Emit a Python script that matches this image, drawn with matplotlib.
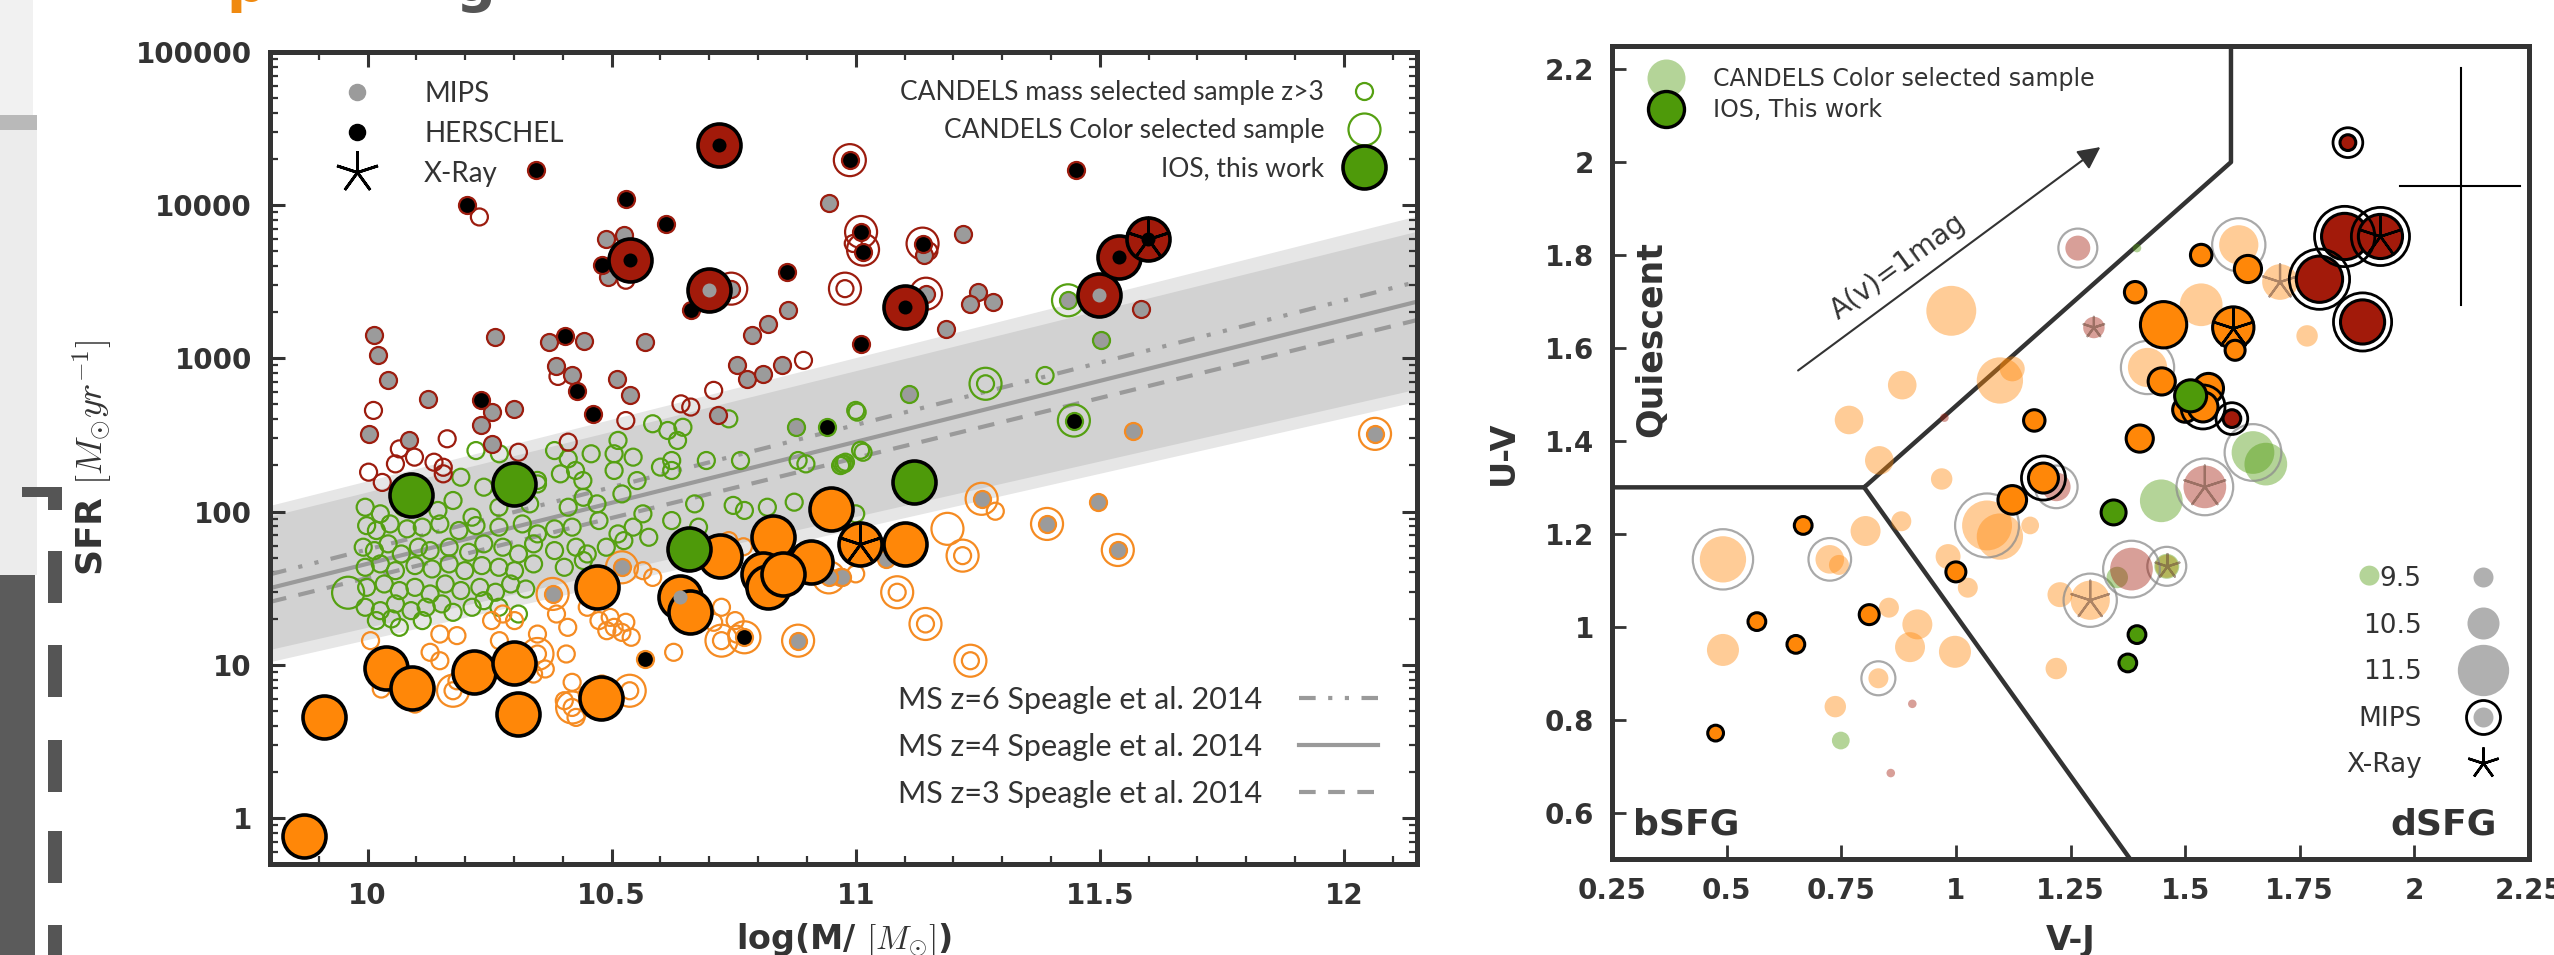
import matplotlib
matplotlib.use("Agg")
import matplotlib.pyplot as plt
import numpy as np
from matplotlib.lines import Line2D
from matplotlib.patches import Rectangle
from matplotlib.legend_handler import HandlerTuple
from matplotlib.ticker import FixedLocator, FuncFormatter, LogLocator, MultipleLocator, NullFormatter

plt.rcParams["mathtext.fontset"] = "cm"

# ---------------------------------------------------------------- data
# left panel: (log M, log SFR)
ms_logm = [9.8, 12.15]
ms_z6 = [1.59, 3.50]
ms_z4 = [1.50, 3.37]
ms_z3 = [1.41, 3.25]
band_outer_lo = [1.02, 2.72]
band_outer_hi = [2.04, 3.93]
band_inner_lo = [1.10, 2.80]
band_inner_hi = [1.97, 3.83]

red_herschel = [(10.345, 4.228), (10.204, 4.004), (10.530, 4.043), (10.612, 3.880), (10.48, 3.607),
                (10.662, 3.313), (10.86, 3.564), (10.404, 3.143), (10.43, 2.786), (10.462, 2.638),
                (10.232, 2.73), (11.01, 3.095), (11.451, 4.228), (11.015, 3.695), (11.011, 3.825),
                (11.137, 3.749), (10.988, 4.294)]
red_mips = [(10.945, 4.011), (10.489, 3.777), (10.525, 3.804), (10.493, 3.531), (10.788, 3.150),
            (10.82, 3.226), (10.862, 3.318), (10.014, 3.150), (10.022, 3.019), (10.041, 2.86),
            (10.261, 3.139), (10.371, 3.106), (10.444, 3.113), (10.568, 3.106), (10.386, 2.947),
            (10.419, 2.889), (10.51, 2.867), (10.537, 2.758), (10.756, 2.954), (10.778, 2.867),
            (10.811, 2.895), (10.85, 2.954), (10.124, 2.736), (10.30, 2.671), (10.254, 2.649),
            (10.232, 2.562), (10.002, 2.507), (10.717, 2.627), (10.085, 2.464), (10.254, 2.442),
            (11.14, 3.673), (11.219, 3.814), (11.25, 3.433), (11.235, 3.357), (11.282, 3.368),
            (11.184, 3.194), (11.584, 3.324), (11.144, 3.422), (10.745, 3.455)]
red_plain = [(10.229, 3.923), (10.529, 3.51), (10.39, 2.882), (10.893, 2.987), (10.012, 2.66),
             (10.709, 2.791), (10.642, 2.703), (10.662, 2.682), (10.529, 2.594), (10.163, 2.475),
             (10.065, 2.409), (10.057, 2.311), (10.096, 2.355), (10.136, 2.322), (10.155, 2.289),
             (10.155, 2.246), (10.002, 2.257), (10.03, 2.19), (10.309, 2.387), (10.411, 2.453),
             (10.978, 3.455), (10.995, 3.75), (11.15, 3.70)]
red_colorsel = [(10.988, 4.294), (11.011, 3.825), (11.015, 3.71), (11.137, 3.749), (10.978, 3.455),
                (11.144, 3.422), (10.745, 3.455)]

green_herschel = [(10.941, 2.555), (11.447, 2.594)]
green_mips = [(10.878, 2.555), (11.109, 2.769), (11.502, 3.117), (11.435, 3.379)]
green_plain = [
    (11.0, 2.66), (10.898, 2.311), (10.969, 2.30), (11.01, 2.40), (10.584, 2.573), (10.615, 2.529),
    (10.646, 2.55), (10.74, 2.605), (10.513, 2.464), (10.635, 2.464), (10.694, 2.333), (10.6, 2.29),
    (10.623, 2.268), (10.505, 2.268), (10.552, 2.202), (10.383, 2.398), (10.411, 2.344), (10.426, 2.268),
    (10.441, 2.202), (10.222, 2.398), (10.27, 2.377), (10.30, 2.19), (10.348, 2.18), (11.266, 2.834),
    (11.388, 2.888), (11.003, 2.649), (11.015, 2.387), (10.972, 2.311), (10.979, 2.322), (11.0, 1.985),
    (10.191, 2.224), (10.238, 2.159), (10.348, 2.203), (10.395, 2.246), (10.505, 2.377), (10.623, 2.333),
    (10.764, 2.333), (10.882, 2.333), (10.976, 2.311), (10.458, 2.377), (10.544, 2.355),
    (9.995, 2.028), (10.026, 1.985), (10.073, 2.028), (10.144, 2.007), (10.175, 2.072), (10.214, 1.963),
    (10.269, 2.028), (10.332, 2.05), (10.411, 2.028), (10.442, 2.093), (10.47, 2.05), (10.521, 2.115),
    (10.564, 1.985), (10.67, 2.05), (10.749, 2.04), (10.772, 2.007), (10.819, 2.028), (10.874, 2.061),
    (9.998, 1.908), (10.018, 1.876), (10.046, 1.919), (10.081, 1.887), (10.112, 1.898), (10.148, 1.919),
    (10.187, 1.876), (10.222, 1.908), (10.269, 1.898), (10.317, 1.919), (10.348, 1.854), (10.383, 1.887),
    (10.419, 1.898), (10.474, 1.941), (10.513, 1.854), (10.544, 1.898), (10.623, 1.941), (10.678, 1.898),
    (9.991, 1.767), (10.014, 1.745), (10.042, 1.789), (10.069, 1.723), (10.104, 1.767), (10.128, 1.745),
    (10.167, 1.767), (10.207, 1.734), (10.238, 1.789), (10.277, 1.767), (10.309, 1.723), (10.34, 1.789),
    (10.383, 1.745), (10.427, 1.767), (10.45, 1.723), (10.489, 1.767), (10.525, 1.81), (10.576, 1.832),
    (9.995, 1.636), (10.026, 1.658), (10.057, 1.614), (10.097, 1.647), (10.132, 1.625), (10.167, 1.658),
    (10.199, 1.614), (10.234, 1.647), (10.269, 1.636), (10.301, 1.614), (10.34, 1.658), (10.403, 1.636),
    (10.442, 1.68), (9.998, 1.505), (10.034, 1.527), (10.065, 1.484), (10.097, 1.505), (10.128, 1.462),
    (10.159, 1.527), (10.191, 1.484), (10.23, 1.505), (10.262, 1.473), (10.293, 1.527), (10.324, 1.494),
    (10.238, 1.418), (9.995, 1.375), (10.026, 1.353), (10.057, 1.397), (10.089, 1.353), (10.12, 1.375),
    (10.152, 1.397), (10.175, 1.342), (10.214, 1.375), (10.269, 1.375), (10.309, 1.331), (10.018, 1.288),
    (10.049, 1.299), (10.065, 1.244), (10.112, 1.288)]
green_colorsel = [(9.96, 1.47), (11.266, 2.834), (11.435, 3.379), (11.447, 2.594)]

orange_herschel = [(10.772, 1.179), (10.568, 1.037)]
orange_mips = [(11.496, 2.065), (11.569, 2.529), (10.379, 1.462), (10.521, 1.636), (11.258, 2.083),
               (11.392, 1.919), (11.537, 1.749), (12.064, 2.507), (10.882, 1.157), (11.062, 1.69),
               (10.972, 1.571), (10.945, 1.57)]
orange_plain = [
    (11.286, 2.002), (11.219, 1.712), (11.085, 1.473), (11.143, 1.266), (11.235, 1.026), (11.0, 1.593),
    (10.028, 0.841), (10.097, 0.743), (10.148, 1.20), (10.183, 1.19), (10.128, 1.081), (10.148, 1.026),
    (10.175, 0.83), (10.183, 0.895), (10.254, 1.288), (10.277, 1.331), (10.301, 1.288), (10.27, 1.157),
    (10.348, 1.2), (10.348, 1.07), (10.34, 0.939), (10.364, 0.972), (10.387, 1.331), (10.41, 1.244),
    (10.45, 1.375), (10.474, 1.288), (10.497, 1.309), (10.505, 1.244), (10.521, 1.211), (10.49, 1.222),
    (10.529, 1.277), (10.54, 1.179), (10.407, 1.07), (10.419, 0.885), (10.403, 0.765), (10.419, 0.721),
    (10.427, 0.656), (10.45, 0.808), (10.537, 0.83), (10.48, 0.874), (10.564, 1.614), (10.584, 1.57),
    (10.725, 1.375), (10.725, 1.157), (10.756, 1.2), (10.627, 1.081), (10.753, 1.288), (10.709, 1.277),
    (10.74, 1.81), (10.77, 1.77), (10.969, 1.57), (10.006, 1.157)]
orange_colorsel = [(11.258, 2.083), (11.392, 1.919), (11.537, 1.749), (12.064, 2.507), (10.882, 1.157),
                   (10.379, 1.462), (10.521, 1.636), (11.188, 1.887), (11.219, 1.712), (11.085, 1.473),
                   (11.143, 1.266), (11.235, 1.026), (10.175, 0.83), (10.348, 1.07), (10.419, 0.721),
                   (10.537, 0.83), (10.725, 1.157), (10.772, 1.179), (10.945, 1.57)]

# IOS (this work): (log M, log SFR, detection)
ios_red = [(10.72, 4.39, "herschel"), (10.537, 3.645, "herschel"), (10.70, 3.444, "mips"),
           (11.10, 3.335, "herschel"), (11.498, 3.411, "mips"), (11.539, 3.662, "herschel"),
           (11.598, 3.782, "herschel")]
ios_green = [(10.089, 2.105, ""), (10.299, 2.18, ""), (10.658, 1.756, ""), (11.119, 2.195, "")]
ios_orange = [(9.870, -0.118, ""), (9.910, 0.656, ""), (10.038, 0.976, ""), (10.091, 0.847, ""),
              (10.218, 0.954, ""), (10.299, 1.009, ""), (10.309, 0.677, ""), (10.478, 0.782, ""),
              (10.470, 1.505, ""), (10.639, 1.44, "mips"), (10.661, 1.342, ""), (10.721, 1.712, ""),
              (10.83, 1.832, ""), (10.811, 1.593, ""), (10.82, 1.505, ""), (10.908, 1.669, ""),
              (10.851, 1.593, ""), (10.949, 2.017, ""), (11.009, 1.789, ""), (11.10, 1.789, "")]
ios_xray = [(11.598, 3.782), (11.009, 1.789)]

# right panel: (V-J, U-V, log M, mips, xray)
cs_orange = [(0.99, 1.68, 11.44, 0, 0), (1.096, 1.53, 11.28, 0, 0), (1.123, 1.555, 9.97, 0, 0),
             (0.883, 1.52, 10.26, 0, 0), (0.767, 1.445, 10.26, 0, 0), (0.833, 1.358, 10.26, 0, 0),
             (0.969, 1.318, 9.65, 0, 0), (0.803, 1.206, 10.36, 0, 0), (0.492, 1.145, 11.28, 1, 0),
             (0.725, 1.145, 10.26, 1, 0), (0.745, 1.133, 9.5, 0, 0), (0.881, 1.227, 9.5, 0, 0),
             (1.068, 1.218, 11.44, 1, 0), (1.096, 1.194, 11.28, 0, 0), (1.162, 1.218, 9.25, 0, 0),
             (0.983, 1.151, 9.97, 0, 0), (1.026, 1.084, 9.5, 0, 0), (0.854, 1.041, 9.5, 0, 0),
             (0.916, 1.005, 10.36, 0, 0), (0.900, 0.956, 10.36, 0, 0), (0.998, 0.946, 10.5, 0, 0),
             (0.492, 0.95, 10.5, 0, 0), (0.831, 0.889, 9.5, 1, 0), (0.737, 0.828, 9.65, 0, 0),
             (1.219, 0.91, 9.65, 0, 0), (1.617, 1.822, 10.93, 1, 0), (1.707, 1.742, 10.73, 0, 1),
             (1.535, 1.693, 11.11, 0, 0), (1.766, 1.626, 9.65, 0, 0), (1.418, 1.558, 10.93, 1, 0),
             (1.293, 1.057, 10.93, 1, 1), (1.227, 1.069, 9.97, 0, 0), (1.46, 1.13, 9.8, 0, 0)]
cs_green = [(0.749, 0.755, 9.25, 0, 0), (1.395, 1.815, 7.7, 0, 0), (1.648, 1.375, 11.11, 1, 0),
            (1.676, 1.35, 11.11, 0, 0), (1.448, 1.271, 11.11, 0, 0), (1.352, 1.106, 9.65, 0, 0),
            (1.902, 1.11, 9.5, 0, 0), (1.46, 1.13, 9.97, 1, 1)]
cs_red = [(1.266, 1.815, 9.97, 1, 0), (1.301, 1.644, 9.65, 0, 1), (1.543, 1.301, 11.11, 1, 1),
          (1.383, 1.124, 11.11, 1, 0), (1.219, 1.301, 10.26, 1, 0), (0.975, 1.45, 7.7, 0, 0),
          (0.905, 0.834, 7.7, 0, 0), (0.858, 0.685, 7.7, 0, 0)]
ios_uvj_orange = [(1.171, 1.444, 9.65, 0, 0), (0.667, 1.218, 9.25, 0, 0), (0.566, 1.011, 9.25, 0, 0),
                  (0.651, 0.962, 9.25, 0, 0), (0.811, 1.026, 9.5, 0, 0), (0.476, 0.771, 9.0, 0, 0),
                  (1.0, 1.118, 9.5, 0, 0), (1.123, 1.273, 10.26, 0, 0), (1.191, 1.32, 10.36, 1, 0),
                  (1.535, 1.8, 9.65, 0, 0), (1.637, 1.77, 10.15, 0, 0), (1.391, 1.72, 9.65, 0, 0),
                  (1.453, 1.65, 11.28, 0, 0), (1.605, 1.644, 11.04, 0, 1), (1.609, 1.595, 9.5, 0, 0),
                  (1.449, 1.528, 10.15, 0, 0), (1.5, 1.467, 9.97, 0, 0), (1.551, 1.513, 10.36, 0, 0),
                  (1.539, 1.473, 10.36, 1, 0), (1.401, 1.405, 10.15, 0, 0)]
ios_uvj_green = [(1.512, 1.497, 10.5, 0, 0), (1.344, 1.246, 9.97, 0, 0), (1.395, 0.983, 9.25, 0, 0),
                 (1.375, 0.922, 9.25, 0, 0)]
ios_uvj_red = [(1.602, 1.448, 9.25, 1, 0), (1.848, 1.84, 11.28, 1, 0), (1.926, 1.84, 11.18, 1, 1),
               (1.793, 1.748, 11.28, 1, 0), (1.887, 1.656, 11.18, 1, 0), (1.855, 2.042, 9.0, 1, 0)]

# selection boundaries and extras
box_upper_x = [0.25, 0.8, 1.6, 1.6]
box_upper_y = [1.3, 1.3, 2.0, 2.25]
box_lower_x = [0.8, 1.38]
box_lower_y = [1.3, 0.5]
av_start = (0.651, 1.548)
av_end = (1.32, 2.036)
err_x = 2.102
err_y = 1.948
err_xspan = (1.969, 2.23)
err_yspan = (1.693, 2.203)
legend_masses = [9.5, 10.5, 11.5]

# ---------------------------------------------------------------- style
W, H, DPI = 2554, 955, 100
INK = "#333333"
RED, GREEN, ORANGE = "#a21a0a", "#4e9a0a", "#ff8708"
RED_RING, GREEN_RING, ORANGE_RING = "#9c1c0e", "#55a012", "#f58b22"
GRAYDOT = "#9b9b9b"
PX = 72.0 / DPI  # points per pixel
STAR = (5, 2, 0)

fig = plt.figure(figsize=(W / DPI, H / DPI), dpi=DPI)


def rect_px(x0, y0, x1, y1, color):
    fig.add_artist(Rectangle((x0 / W, 1 - y1 / H), (x1 - x0) / W, (y1 - y0) / H,
                             transform=fig.transFigure, color=color, lw=0, zorder=0))


def frame(x0, y0, x1, y1):
    return [x0 / W, 1 - y1 / H, (x1 - x0) / W, (y1 - y0) / H]


def area(r_px):
    return (2 * r_px * PX) ** 2


# slide remnants on the left edge
rect_px(0, 0, 33, 115, "#f1f1f1")
rect_px(0, 115, 37, 130, "#b9b9b9")
rect_px(0, 130, 37, 575, "#ececec")
rect_px(0, 575, 35, 955, "#5b5b5b")
rect_px(22, 487, 62, 497, "#555555")
rect_px(48, 487, 62, 510, "#555555")
for y0, y1 in [(551, 603), (645, 697), (740, 792), (831, 883), (925, 955)]:
    rect_px(48, y0, 62, y1, "#555555")
fig.text(226 / W, 1 - 1 / H, "p", color="#f08a10", fontsize=40, fontweight="bold", va="baseline")
fig.text(455 / W, 1 - 1 / H, "g", color="#555555", fontsize=40, fontweight="bold", va="baseline")

# ---------------------------------------------------------------- left panel
ax = fig.add_axes(frame(270, 52, 1417, 864))
ax.set_yscale("log")
ax.set_xlim(9.8, 12.15)
ax.set_ylim(0.5, 1e5)

lx = np.array(ms_logm)
ax.fill_between(lx, 10 ** np.array(band_outer_lo), 10 ** np.array(band_outer_hi), color="#e6e6e6", lw=0, zorder=1)
ax.fill_between(lx, 10 ** np.array(band_inner_lo), 10 ** np.array(band_inner_hi), color="#d2d2d2", lw=0, zorder=1)
l6, = ax.plot(lx, 10 ** np.array(ms_z6), color="#9a9a9a", lw=3, ls=(0, (4, 3, 1, 3, 1, 3)), zorder=2)
l4, = ax.plot(lx, 10 ** np.array(ms_z4), color="#9a9a9a", lw=3, zorder=2)
l3, = ax.plot(lx, 10 ** np.array(ms_z3), color="#9a9a9a", lw=3, ls=(0, (4, 3)), zorder=2)

R_SMALL, R_BIG, R_IOS, R_DOT = 8.5, 16, 21.5, 7


def rings(pts, edge, face, r, z):
    if not pts:
        return
    x, y = zip(*pts)
    ax.scatter(x, 10 ** np.array(y), s=area(r), facecolor=face, edgecolor=edge, lw=1.6, zorder=z)


for col, ring, plain, mips, hers, csel in [
    ("g", GREEN_RING, green_plain, green_mips, green_herschel, green_colorsel),
    ("o", ORANGE_RING, orange_plain, orange_mips, orange_herschel, orange_colorsel),
    ("r", RED_RING, red_plain, red_mips, red_herschel, red_colorsel),
]:
    rings(csel, ring, "none", R_BIG, 3)
    rings(plain, ring, "none", R_SMALL, 4)
    rings(mips, ring, GRAYDOT, R_SMALL, 4)
    rings(hers, ring, "black", R_SMALL, 4)

for pts, fill in [(ios_orange, ORANGE), (ios_green, GREEN), (ios_red, RED)]:
    x, y, det = zip(*pts)
    ax.scatter(x, 10 ** np.array(y), s=area(R_IOS), facecolor=fill, edgecolor="black", lw=2.6, zorder=6)
    for xi, yi, d in pts:
        if d:
            ax.scatter([xi], [10 ** yi], s=area(R_DOT), color=GRAYDOT if d == "mips" else "black",
                       lw=0, zorder=7)
xs, ys = zip(*ios_xray)
ax.scatter(xs, 10 ** np.array(ys), s=area(R_IOS), marker=STAR, color="black", lw=2, zorder=8)

ax.yaxis.set_major_locator(FixedLocator([1, 10, 100, 1000, 10000, 100000]))
ax.yaxis.set_major_formatter(FuncFormatter(lambda v, _: f"{v:.0f}"))
ax.yaxis.set_minor_locator(LogLocator(base=10, subs=np.arange(2, 10)))
ax.yaxis.set_minor_formatter(NullFormatter())
ax.xaxis.set_major_locator(FixedLocator([10, 10.5, 11, 11.5, 12]))
ax.xaxis.set_major_formatter(FuncFormatter(lambda v, _: f"{v:g}"))
ax.xaxis.set_minor_locator(MultipleLocator(0.1))
ax.tick_params(which="both", direction="in", top=True, right=True, color=INK, labelcolor=INK)
ax.tick_params(which="major", length=11, width=2.2, labelsize=20, pad=13)
ax.tick_params(which="minor", length=5.5, width=1.6)
for lab in ax.get_xticklabels() + ax.get_yticklabels():
    lab.set_fontweight("bold")
for sp in ax.spines.values():
    sp.set_linewidth(3.6)
    sp.set_color(INK)

ax.set_ylabel(r"SFR $[M_{\odot}yr^{-1}]$", fontsize=26, fontweight="bold", color=INK)
ax.yaxis.set_label_coords(-0.135, 0.5)
ax.set_xlabel(r"log(M/ $[M_{\odot}]$)", fontsize=24, fontweight="bold", color=INK)
ax.xaxis.set_label_coords(0.5, -0.07)

lfont = {"family": "Lato", "size": 20}
h_mips = Line2D([], [], ls="", marker="o", ms=2 * R_DOT * PX * 1.15, mfc=GRAYDOT, mec=GRAYDOT)
h_hers = Line2D([], [], ls="", marker="o", ms=2 * R_DOT * PX * 1.15, mfc="black", mec="black")
h_xray = Line2D([], [], ls="", marker=STAR, ms=2 * R_IOS * PX * 1.0, color="black", mew=2)
leg1 = ax.legend([h_mips, h_hers, h_xray], ["MIPS", "HERSCHEL", "X-Ray"], loc="upper left",
                 bbox_to_anchor=(0.035, 0.995), frameon=False, prop=lfont, labelspacing=0.5,
                 handletextpad=1.6, handlelength=1.6, labelcolor=INK)
ax.add_artist(leg1)

h_ms = Line2D([], [], ls="", marker="o", ms=2 * R_SMALL * PX, mfc="none", mec=GREEN_RING, mew=1.6)
h_cs = Line2D([], [], ls="", marker="o", ms=2 * R_BIG * PX, mfc="none", mec=GREEN_RING, mew=1.6)
h_ios = Line2D([], [], ls="", marker="o", ms=2 * R_IOS * PX, mfc=GREEN, mec="black", mew=2.6)
leg2 = ax.legend([h_ms, h_cs, h_ios],
                 ["CANDELS mass selected sample z>3", "CANDELS Color selected sample", "IOS, this work"],
                 loc="upper right", bbox_to_anchor=(0.995, 0.995), frameon=False,
                 prop={"family": "Lato", "size": 19},
                 markerfirst=False, labelspacing=0.5, handletextpad=0.6, handlelength=1.8, labelcolor=INK)
ax.add_artist(leg2)

leg3 = ax.legend([l6, l4, l3],
                 ["MS z=6 Speagle et al. 2014", "MS z=4 Speagle et al. 2014", "MS z=3 Speagle et al. 2014"],
                 loc="lower right", bbox_to_anchor=(0.99, 0.035), frameon=False,
                 prop={"family": "Lato", "size": 22}, markerfirst=False, labelspacing=0.62,
                 handlelength=2.6, handletextpad=1.2, labelcolor=INK)

# ---------------------------------------------------------------- right panel
bx = fig.add_axes(frame(1612, 46, 2529, 859))
bx.set_xlim(0.25, 2.25)
bx.set_ylim(0.5, 2.25)


def msize(m):
    return 207.0 * 2.57 ** (np.asarray(m) - 9.5)


def ring_size(s):
    r_px = np.sqrt(s) / 2 / PX
    return area(r_px + 7)


def uvj(pts, color, light, z):
    x, y, m, mips, xray = (np.array(v) for v in zip(*pts))
    s = msize(m)
    if light:
        bx.scatter(x, y, s=s, color=color, alpha=0.42, lw=0, zorder=z)
        ring_kw = dict(facecolor="none", edgecolor="#8c8c8c", alpha=0.75, lw=1.6)
        star_kw = dict(color="#6b4a3a", alpha=0.55, lw=1.6)
    else:
        bx.scatter(x, y, s=s, facecolor=color, edgecolor="black", lw=2.2, zorder=z)
        ring_kw = dict(facecolor="none", edgecolor="black", lw=2.0)
        star_kw = dict(color="black", lw=1.8)
    sel = mips == 1
    if sel.any():
        bx.scatter(x[sel], y[sel], s=ring_size(s[sel]), zorder=z, **ring_kw)
    sel = xray == 1
    if sel.any():
        bx.scatter(x[sel], y[sel], s=s[sel], marker=STAR, zorder=z + 0.5, **star_kw)


uvj(cs_orange, ORANGE, True, 3)
uvj(cs_green, GREEN, True, 3)
uvj(cs_red, RED, True, 3)
uvj(ios_uvj_orange, ORANGE, False, 5)
uvj(ios_uvj_green, GREEN, False, 5)
uvj(ios_uvj_red, RED, False, 6)

bx.plot(box_upper_x, box_upper_y, color=INK, lw=3.2, zorder=2)
bx.plot(box_lower_x, box_lower_y, color=INK, lw=3.2, zorder=2)
bx.annotate("", xy=av_end, xytext=av_start, zorder=2,
            arrowprops=dict(arrowstyle="-|>", color=INK, lw=1.5, mutation_scale=34))
bx.text(0.875, 1.775, "A(v)=1mag", rotation=36, ha="center", va="center", fontsize=20,
        family="DejaVu Sans", color=INK, rotation_mode="anchor")
bx.plot([err_x, err_x], err_yspan, color="black", lw=1.5, zorder=2)
bx.plot(err_xspan, [err_y, err_y], color="black", lw=1.5, zorder=2)

bx.text(0.335, 1.62, "Quiescent", rotation=90, ha="center", va="center", fontsize=25,
        fontweight="bold", color=INK, family=["Liberation Sans Narrow", "DejaVu Sans"])
bx.text(0.295, 0.575, "bSFG", ha="left", va="center", fontsize=26, fontweight="bold", color=INK)
bx.text(2.18, 0.575, "dSFG", ha="right", va="center", fontsize=26, fontweight="bold", color=INK)

bx.xaxis.set_major_locator(FixedLocator(np.arange(0.25, 2.26, 0.25)))
bx.xaxis.set_major_formatter(FuncFormatter(lambda v, _: f"{v:g}"))
bx.yaxis.set_major_locator(FixedLocator(np.arange(0.6, 2.21, 0.2)))
bx.yaxis.set_major_formatter(FuncFormatter(lambda v, _: f"{v:.1f}".rstrip("0").rstrip(".")))
bx.tick_params(direction="in", length=10, width=2, color=INK, labelcolor=INK, labelsize=20, pad=13)
for lab in bx.get_xticklabels() + bx.get_yticklabels():
    lab.set_fontweight("bold")
for sp in bx.spines.values():
    sp.set_linewidth(3.6)
    sp.set_color(INK)
bx.set_xlabel("V-J", fontsize=24, fontweight="bold", color=INK)
bx.xaxis.set_label_coords(0.5, -0.08)
bx.set_ylabel("U-V", fontsize=24, fontweight="bold", color=INK)
bx.yaxis.set_label_coords(-0.1, 0.5)

rfont = {"family": "DejaVu Sans", "size": 17}
h_lg = Line2D([], [], ls="", marker="o", ms=38 * PX, color=GREEN, alpha=0.42, mew=0)
h_ig = Line2D([], [], ls="", marker="o", ms=36 * PX, mfc=GREEN, mec="black", mew=2.4)
leg4 = bx.legend([h_lg, h_ig], ["CANDELS Color selected sample", "IOS, This work"], loc="upper left",
                 bbox_to_anchor=(0.01, 1.0), frameon=False, prop=rfont, labelspacing=0.3,
                 handletextpad=1.0, labelcolor=INK)
bx.add_artist(leg4)

size_handles = [Line2D([], [], ls="", marker="o", ms=np.sqrt(msize(m)), color="#8f8f8f", alpha=0.7, mew=0)
                for m in legend_masses]
mips_ring = Line2D([], [], ls="", marker="o", ms=np.sqrt(ring_size(msize(9.5))), mfc="none", mec="black", mew=2)
mips_dot = Line2D([], [], ls="", marker="o", ms=np.sqrt(msize(9.5)), color="#8f8f8f", alpha=0.7, mew=0)
x_star = Line2D([], [], ls="", marker=STAR, ms=np.sqrt(msize(10.5)), color="black", mew=1.8)
leg5 = bx.legend(size_handles + [(mips_ring, mips_dot), x_star],
                 [f"{m:g}" for m in legend_masses] + ["MIPS", "X-Ray"],
                 handler_map={tuple: HandlerTuple(ndivide=1, pad=0)},
                 loc="lower right", bbox_to_anchor=(1.004, 0.07), frameon=False,
                 prop={"family": "DejaVu Sans", "size": 19}, markerfirst=False, labelspacing=0.78,
                 handletextpad=1.3, labelcolor=INK)

fig.savefig("out.png", dpi=DPI)
